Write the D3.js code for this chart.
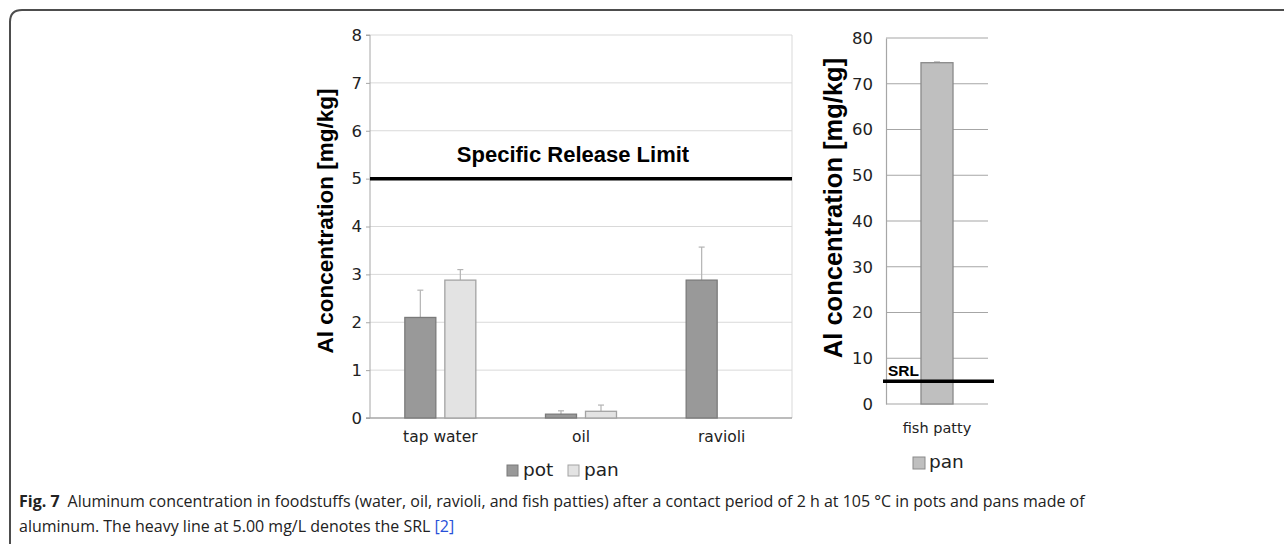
<!DOCTYPE html>
<html><head><meta charset="utf-8">
<script src="https://cdn.jsdelivr.net/npm/d3@7"></script>
<style>html,body{margin:0;padding:0;background:#fff;}svg{display:block;}</style>
</head><body>
<svg id="c" width="1284" height="544"></svg>
<script>
// ---- data ----
const categories = ["tap water", "oil", "ravioli"];
const series = ["pot", "pan"];
const potValues = [2.10, 0.08, 2.88];
const potErrors = [0.57, 0.07, 0.69];
const panValues = [2.88, 0.14, null];
const panErrors = [0.22, 0.13, null];
const leftTicks = [0, 1, 2, 3, 4, 5, 6, 7, 8];
const srlValue = 5;

const rightCategories = ["fish patty"];
const rightPanValues = [74.6];
const rightPanErrors = [0.2];
const rightTicks = [0, 10, 20, 30, 40, 50, 60, 70, 80];

const caption1Bold = "Fig. 7";
const caption1 = "Aluminum concentration in foodstuffs (water, oil, ravioli, and fish patties) after a contact period of 2 h at 105 °C in pots and pans made of";
const caption2 = "aluminum. The heavy line at 5.00 mg/L denotes the SRL ";
const captionRef = "[2]";

// ---- setup ----
const svg = d3.select("#c");
const chartFont = "'DejaVu Sans', Verdana, sans-serif";
const boldFont = "'Liberation Sans', Arial, sans-serif";
const colors = {pot: "#999999", pan: "#e3e3e3", fish: "#bfbfbf"};
const strokes = {pot: "#7a7a7a", pan: "#a3a3a3", fish: "#8a8a8a"};

// frame
svg.append("path")
  .attr("d", "M10,544 L10,22 Q10,10 22,10 L1284,10")
  .attr("fill", "none").attr("stroke", "#4d4d4d").attr("stroke-width", 2);

// ===== LEFT CHART =====
const L = {x0: 370, x1: 792, yTop: 35, yBot: 418};
const yL = d3.scaleLinear().domain([0, 8]).range([L.yBot, L.yTop]);
const xL = d3.scaleBand().domain(categories).range([L.x0, L.x1]);
const xSub = d3.scaleBand().domain(series).range([-35.5, 35.5]).paddingInner(0.225);

const gL = svg.append("g");
gL.selectAll("line.grid").data(leftTicks.filter(d => d > 0)).join("line")
  .attr("x1", L.x0).attr("x2", L.x1)
  .attr("y1", d => yL(d)).attr("y2", d => yL(d))
  .attr("stroke", "#d9d9d9").attr("stroke-width", 1);
gL.append("line").attr("x1", L.x1).attr("x2", L.x1).attr("y1", yL(8)).attr("y2", yL(0))
  .attr("stroke", "#d9d9d9");

const axL = d3.axisLeft(yL).tickValues(leftTicks).tickSize(4).tickPadding(4).tickFormat(d3.format("d"));
const axLg = gL.append("g").attr("transform", `translate(${L.x0},0)`).call(axL);
axLg.select(".domain").attr("stroke", "#a6a6a6").attr("d", `M-4,${yL(8)}H0V${yL(0)}`);
axLg.selectAll(".tick line").attr("stroke", "#a6a6a6");
axLg.selectAll(".tick text").attr("font-family", chartFont).attr("font-size", 16.5).attr("fill", "#222");
gL.append("line").attr("x1", L.x0 - 4).attr("x2", L.x1).attr("y1", yL(0)).attr("y2", yL(0))
  .attr("stroke", "#a6a6a6").attr("stroke-width", 1.5);

const barData = [];
categories.forEach((c, i) => {
  barData.push({cat: c, s: "pot", v: potValues[i], e: potErrors[i]});
  if (panValues[i] != null) barData.push({cat: c, s: "pan", v: panValues[i], e: panErrors[i]});
});
const bx = d => xL(d.cat) + xL.bandwidth() / 2 + xSub(d.s);
const errG = gL.append("g");
errG.selectAll("line.err").data(barData).join("line")
  .attr("x1", d => bx(d) + xSub.bandwidth() / 2).attr("x2", d => bx(d) + xSub.bandwidth() / 2)
  .attr("y1", d => yL(d.v)).attr("y2", d => yL(d.v + d.e))
  .attr("stroke", "#b3b3b3").attr("stroke-width", 1.2);
errG.selectAll("line.cap").data(barData).join("line")
  .attr("x1", d => bx(d) + xSub.bandwidth() / 2 - 3).attr("x2", d => bx(d) + xSub.bandwidth() / 2 + 3)
  .attr("y1", d => yL(d.v + d.e)).attr("y2", d => yL(d.v + d.e))
  .attr("stroke", "#b3b3b3").attr("stroke-width", 1.2);
gL.selectAll("rect.bar").data(barData).join("rect")
  .attr("x", d => bx(d)).attr("width", xSub.bandwidth())
  .attr("y", d => yL(d.v)).attr("height", d => yL(0) - yL(d.v))
  .attr("fill", d => colors[d.s]).attr("stroke", d => strokes[d.s]).attr("stroke-width", 1.3);

gL.append("line").attr("x1", L.x0).attr("x2", L.x1).attr("y1", yL(srlValue)).attr("y2", yL(srlValue))
  .attr("stroke", "#000").attr("stroke-width", 3.5);
gL.append("text").attr("x", 573).attr("y", 162).attr("text-anchor", "middle")
  .attr("font-family", boldFont).attr("font-weight", "bold").attr("font-size", 22)
  .text("Specific Release Limit");

gL.selectAll("text.xl").data(categories).join("text")
  .attr("x", d => xL(d) + xL.bandwidth() / 2).attr("y", 442).attr("text-anchor", "middle")
  .attr("font-family", chartFont).attr("font-size", 15.5).attr("fill", "#222").text(d => d);

gL.append("text").attr("transform", "translate(333,221) rotate(-90)").attr("text-anchor", "middle")
  .attr("font-family", boldFont).attr("font-weight", "bold").attr("font-size", 22.5)
  .text("Al concentration [mg/kg]");

const legL = gL.append("g");
const legItems = [{s: "pot", x: 507}, {s: "pan", x: 568}];
legItems.forEach(it => {
  legL.append("rect").attr("x", it.x).attr("y", 465).attr("width", 11).attr("height", 11)
    .attr("fill", colors[it.s]).attr("stroke", strokes[it.s]);
  legL.append("text").attr("x", it.x + 16).attr("y", 476).attr("font-family", chartFont)
    .attr("font-size", 18.5).attr("fill", "#222").text(it.s);
});

// ===== RIGHT CHART =====
const R = {x0: 886, x1: 988, yTop: 38, yBot: 404};
const yR = d3.scaleLinear().domain([0, 80]).range([R.yBot, R.yTop]);
const xR = d3.scaleBand().domain(rightCategories).range([R.x0, R.x1]).paddingInner(0.686).paddingOuter(0.343);
const gR = svg.append("g");
gR.selectAll("line.grid").data(rightTicks).join("line")
  .attr("x1", R.x0).attr("x2", R.x1)
  .attr("y1", d => yR(d)).attr("y2", d => yR(d))
  .attr("stroke", "#a6a6a6").attr("stroke-width", 1.2);
const axR = d3.axisLeft(yR).tickValues(rightTicks).tickSize(0).tickPadding(13).tickFormat(d3.format("d"));
const axRg = gR.append("g").attr("transform", `translate(${R.x0},0)`).call(axR);
axRg.select(".domain").attr("stroke", "#a6a6a6").attr("stroke-width", 1.2);
axRg.selectAll(".tick text").attr("font-family", chartFont).attr("font-size", 16.5).attr("fill", "#222");

const rData = rightCategories.map((c, i) => ({cat: c, v: rightPanValues[i], e: rightPanErrors[i]}));
const rcx = d => xR(d.cat) + xR.bandwidth() / 2;
gR.selectAll("line.err").data(rData).join("line")
  .attr("x1", d => rcx(d) - 3).attr("x2", d => rcx(d) + 3)
  .attr("y1", d => yR(d.v + d.e)).attr("y2", d => yR(d.v + d.e))
  .attr("stroke", "#b3b3b3");
gR.selectAll("rect.bar").data(rData).join("rect")
  .attr("x", d => xR(d.cat)).attr("width", xR.bandwidth())
  .attr("y", d => yR(d.v)).attr("height", d => yR(0) - yR(d.v))
  .attr("fill", colors.fish).attr("stroke", strokes.fish).attr("stroke-width", 1.3);

gR.append("line").attr("x1", 883).attr("x2", 994).attr("y1", yR(srlValue)).attr("y2", yR(srlValue))
  .attr("stroke", "#000").attr("stroke-width", 3.5);
gR.append("text").attr("x", 888).attr("y", 376).attr("font-family", boldFont)
  .attr("font-weight", "bold").attr("font-size", 15.5).text("SRL");

gR.selectAll("text.xl").data(rightCategories).join("text")
  .attr("x", d => xR(d) + xR.bandwidth() / 2).attr("y", 433).attr("text-anchor", "middle")
  .attr("font-family", chartFont).attr("font-size", 14.5).attr("fill", "#222").text(d => d);

gR.append("text").attr("transform", "translate(842,208) rotate(-90)").attr("text-anchor", "middle")
  .attr("font-family", boldFont).attr("font-weight", "bold").attr("font-size", 25.5)
  .text("Al concentration [mg/kg]");

gR.append("rect").attr("x", 913).attr("y", 457).attr("width", 12).attr("height", 12)
  .attr("fill", colors.fish).attr("stroke", strokes.fish);
gR.append("text").attr("x", 929).attr("y", 468).attr("font-family", chartFont)
  .attr("font-size", 18.5).attr("fill", "#222").text("pan");

// ===== CAPTION =====
const capFont = "'Open Sans', 'Noto Sans', sans-serif";
const t1 = svg.append("text").attr("x", 19).attr("y", 507).attr("font-family", capFont)
  .attr("font-size", 15).attr("fill", "#222");
t1.append("tspan").attr("font-weight", "bold").text(caption1Bold);
t1.append("tspan").attr("dx", 8).text(caption1);
const w1 = t1.node().getBBox().width;
const fs = 15 * (1068 / w1);
t1.attr("font-size", fs);
const t2 = svg.append("text").attr("x", 19).attr("y", 532).attr("font-family", capFont)
  .attr("font-size", fs).attr("fill", "#222");
t2.append("tspan").text(caption2);
t2.append("tspan").attr("fill", "#2850d8").text(captionRef);
</script>
</body></html>
